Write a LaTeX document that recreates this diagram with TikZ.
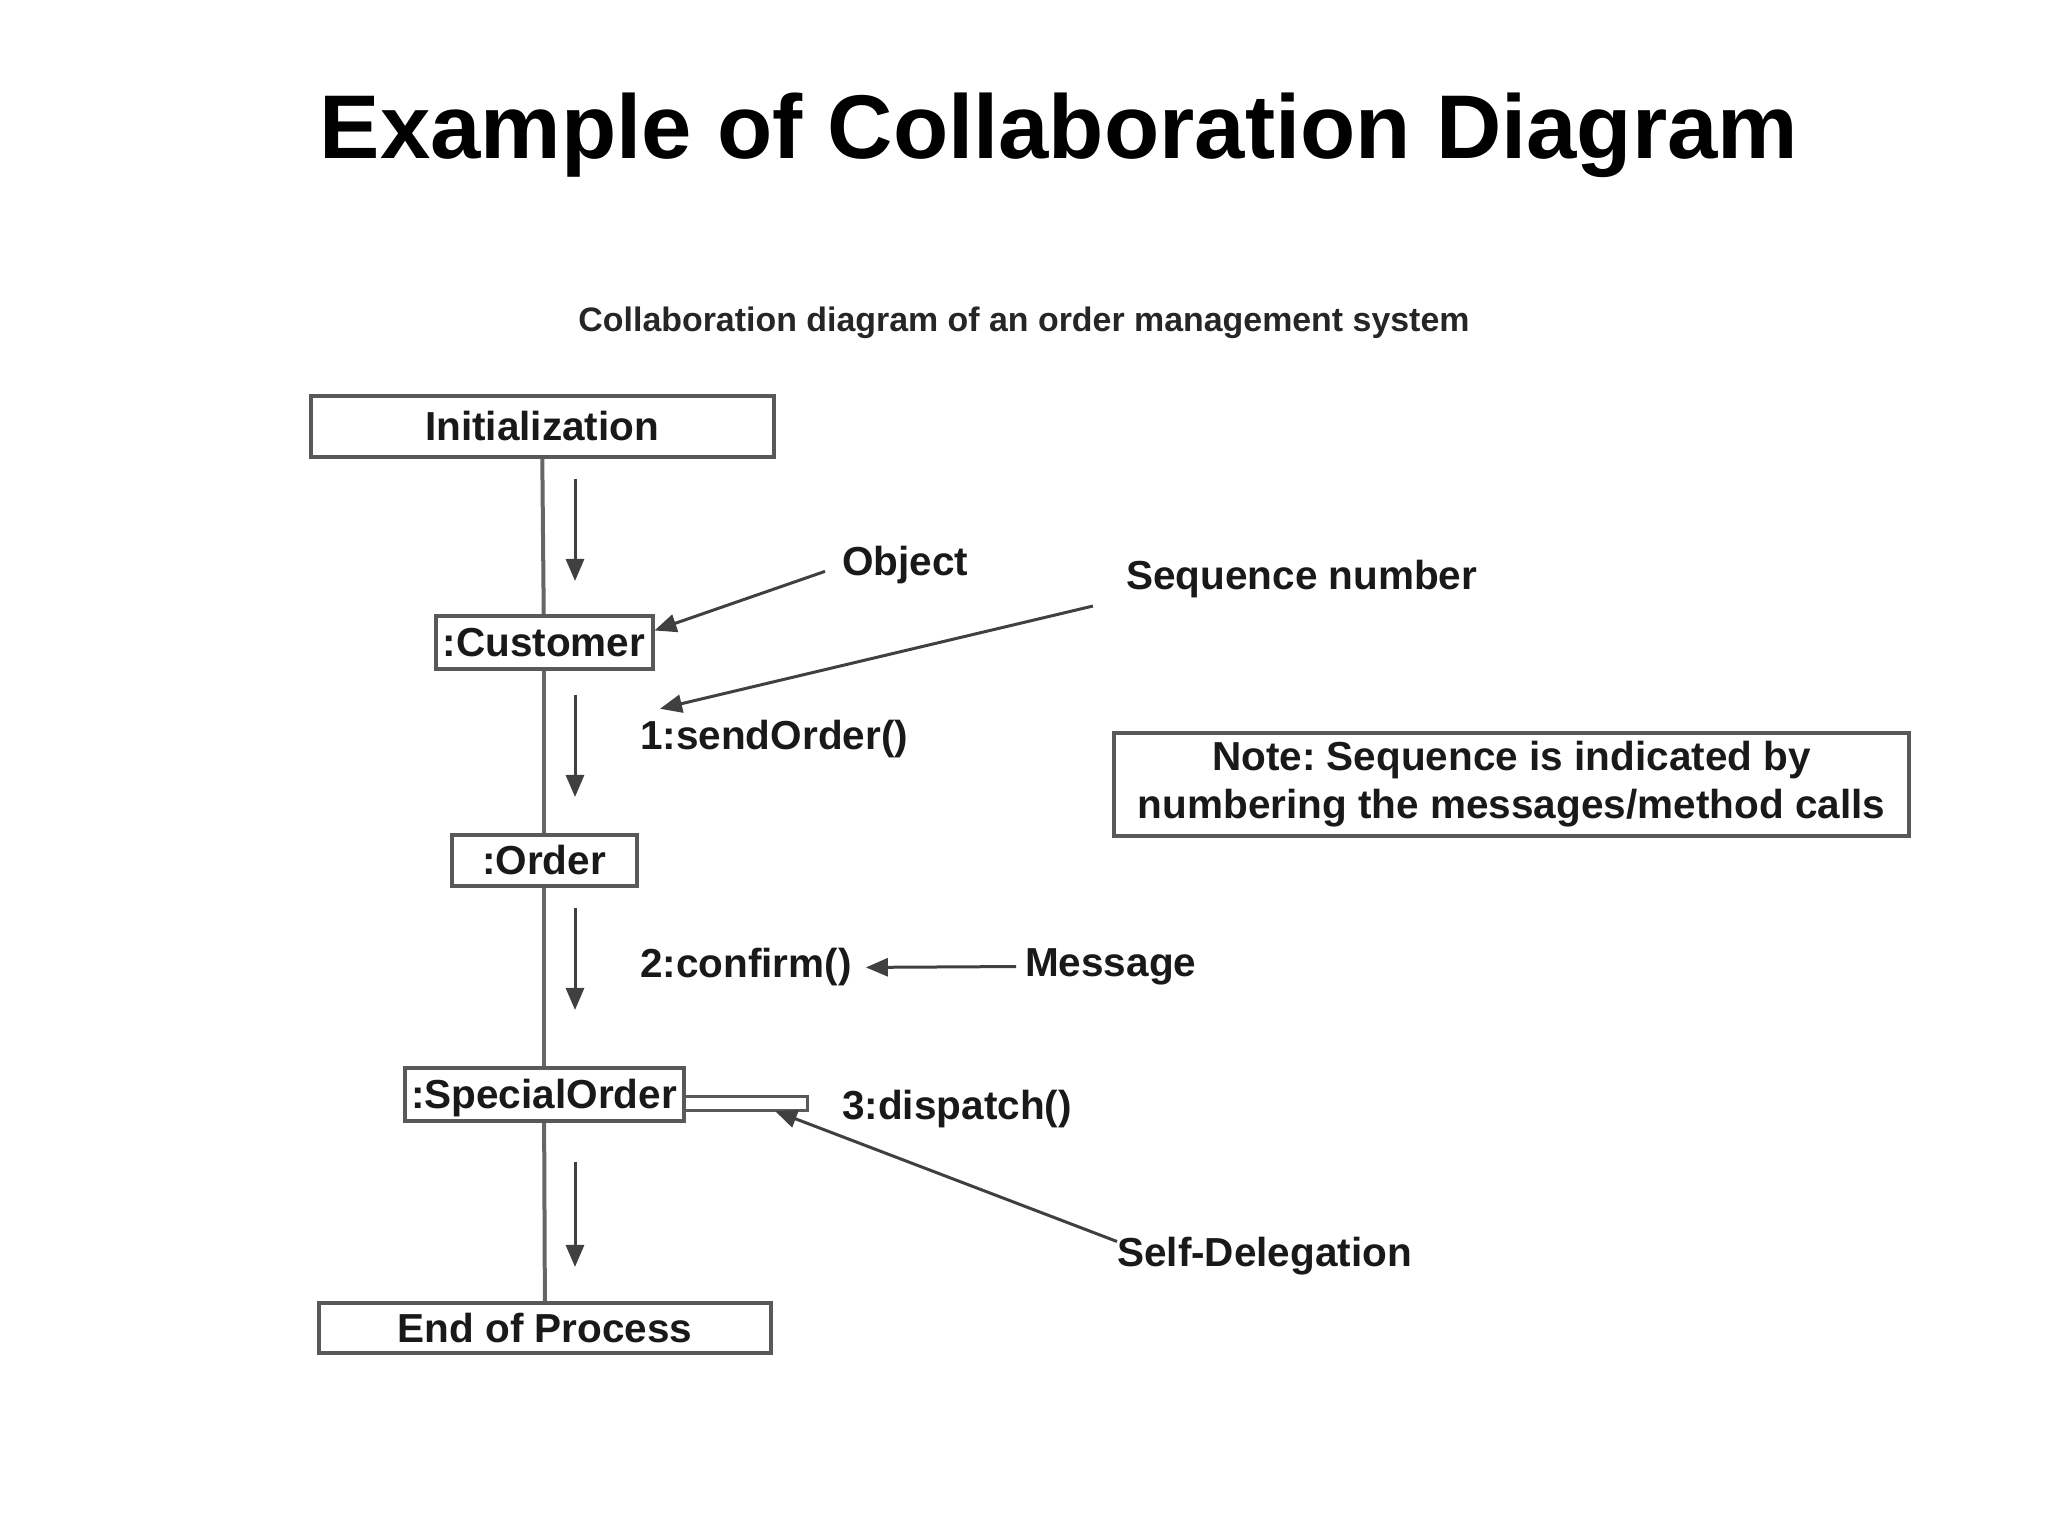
\documentclass[tikz,border=0pt]{standalone}
\usepackage{fontspec}
\setmainfont{Liberation Sans}
\usetikzlibrary{positioning}
\usetikzlibrary{arrows.meta}
\usetikzlibrary{calc}
\frenchspacing

\begin{document}
\begin{tikzpicture}[x=1pt,y=1pt,
	every node/.style={font=\bfseries\fontsize{40.5}{48}\selectfont, text=black!90, inner sep=0pt},
	objbox/.style={draw=black!65, line width=4pt, fill=white, minimum height=53, text height=29, text depth=0},
	lbl/.style={text height=29, text depth=8},
	msg/.style={-{Triangle[length=22pt,width=18pt]}, line width=3pt, draw=black!75, fill=black!90},
	life/.style={line width=4pt, draw=black!60}]
	%% some definitions
	\def\dx{575} % x of the down arrows
	\def\lx{807} % right end of the self loop
	
	\useasboundingbox (0,0) rectangle (2048,1536);
	
	% titles
	\node[font=\bfseries\fontsize{90.5}{100}\selectfont, text=black, anchor=base] (title) at (1059,1377) {Example of Collaboration Diagram};
	\node[font=\bfseries\fontsize{33.9}{40}\selectfont, text=black!85, anchor=base] (subtitle) at (1024,1204) {Collaboration diagram of an order management system};
	
	% objects
	\node[objbox, minimum width=463, minimum height=61] (init) at (542,1109.5) {Initialization};
	\node[objbox, minimum width=217] (cust) at (544,893.5) {:Customer};
	\node[objbox, minimum width=185, minimum height=51] (ord) at (544,675.5) {:Order};
	\node[objbox, minimum width=279] (spec) at (544,441.5) {:SpecialOrder};
	\node[objbox, minimum width=452, minimum height=50] (endp) at (545,208) {End of Process};
	
	% links
	\draw[life] (init) -- (cust);
	\draw[life] (cust) -- (ord);
	\draw[life] (ord) -- (spec);
	\draw[life] (spec) -- (endp);
	
	% labels
	\node[lbl, anchor=base west] (obj) at (842,960) {Object};
	\node[lbl, anchor=base west] (seqnum) at (1126,946) {Sequence number};
	\node[lbl, anchor=base west] (send) at (640,786) {1:sendOrder()};
	\node[lbl, anchor=base west] (confirm) at (640,558) {2:confirm()};
	\node[lbl, anchor=base west] (msgtxt) at (1025,559) {Message};
	\node[lbl, anchor=base west] (dispatch) at (842,416) {3:dispatch()};
	\node[lbl, anchor=base west] (selfdel) at (1117,269) {Self-Delegation};
	\node[draw=black!65, line width=4pt, align=center, minimum width=795, minimum height=103] (note) at (1511.5,751.5)
		{Note: Sequence is indicated by\\numbering the messages/method calls};
	
	% self loop
	\coordinate (loopt) at (\lx,439);
	\coordinate (loopb) at (\lx,425);
	\coordinate (selfhit) at (775,425);
	\draw[line width=3pt, draw=black!65] (spec.east |- loopt) -- (loopt) -- (loopb) -- (spec.east |- loopb);
	
	% down arrows
	\coordinate (d1a) at (\dx,1057);
	\coordinate (d1b) at (\dx,955);
	\coordinate (d2a) at (\dx,841);
	\coordinate (d2b) at (\dx,739);
	\coordinate (d3a) at (\dx,628);
	\coordinate (d3b) at (\dx,526);
	\coordinate (d4a) at (\dx,374);
	\coordinate (d4b) at (\dx,269);
	\begin{scope}[msg]
		\draw (d1a) -- (d1b);
		\draw (d2a) -- (d2b);
		\draw (d3a) -- (d3b);
		\draw (d4a) -- (d4b);
	\end{scope}
	
	% pointers
	\draw[msg, shorten <=18pt] (obj.west) -- ([yshift=12pt]cust.east);
	\draw[msg, shorten <=34pt] (seqnum.south west) -- ($(send.north west)+(20,12)$);
	\draw[msg, shorten <=9pt, shorten >=14pt] (msgtxt.west) -- (confirm.east);
	\draw[msg] ([yshift=15pt]selfdel.west) -- (selfhit);
	
\end{tikzpicture}
\end{document}
